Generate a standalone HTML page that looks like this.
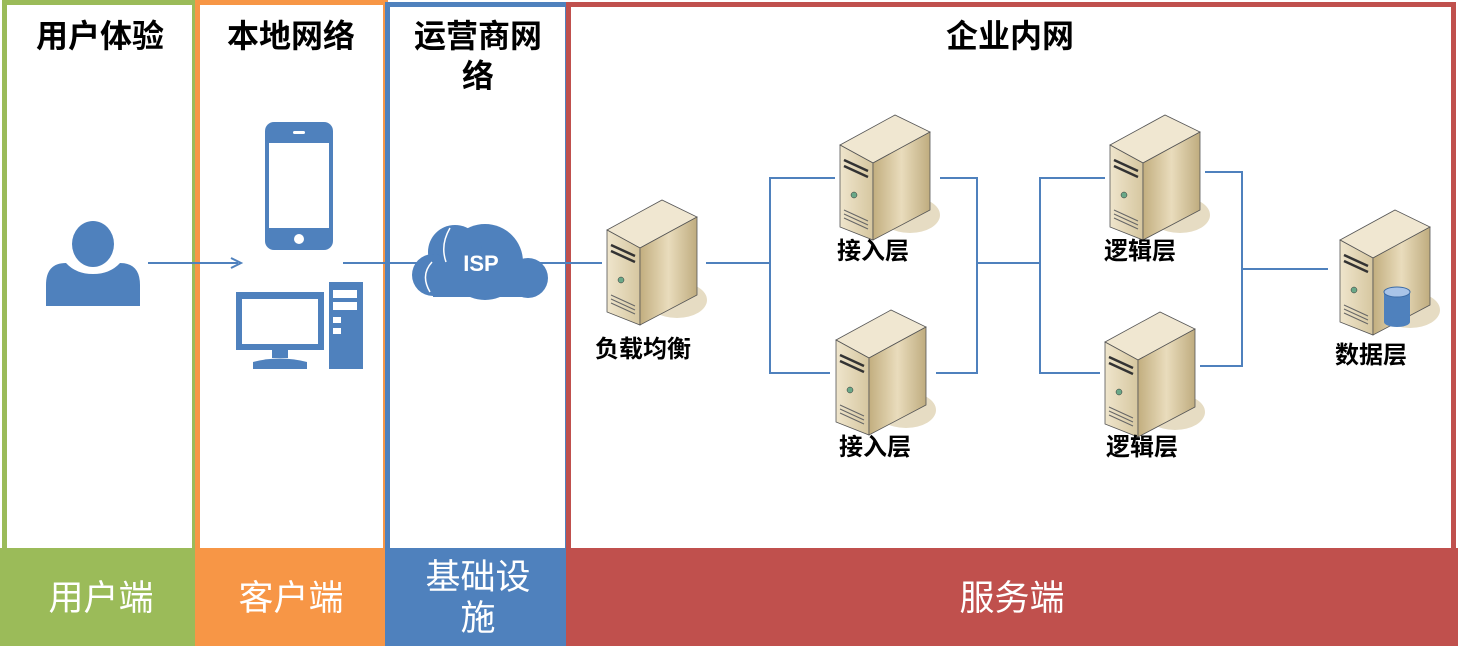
<!DOCTYPE html>
<html><head><meta charset="utf-8"><style>
body{margin:0;background:#fff;}
svg text{font-family:"Liberation Sans","Noto Sans CJK SC",sans-serif;}
</style></head><body>
<svg width="1458" height="646" viewBox="0 0 1458 646" xmlns="http://www.w3.org/2000/svg">
<defs>
<linearGradient id="gs" x1="0" y1="0" x2="1" y2="0"><stop offset="0" stop-color="#c2ae7f"/><stop offset="0.5" stop-color="#e9dcbc"/><stop offset="1" stop-color="#bfac7f"/></linearGradient>
<linearGradient id="gf" x1="0" y1="0" x2="1" y2="0"><stop offset="0" stop-color="#efe5cc"/><stop offset="1" stop-color="#d6c7a0"/></linearGradient>
<g id="srv">
<ellipse cx="72" cy="100" rx="30" ry="18" fill="#e6dcc3"/>
<polygon points="2,30 57,0 92,17 35,48" fill="#f0e7d1" stroke="#555" stroke-width="0.8"/>
<polygon points="2,30 35,48 35,125 2,112" fill="url(#gf)" stroke="#555" stroke-width="0.8"/>
<polygon points="35,48 92,17 92,95 35,125" fill="url(#gs)" stroke="#555" stroke-width="0.8"/>
<path d="M6,45 L30,56 M6,51 L30,62" stroke="#333" stroke-width="2.5"/>
<circle cx="16" cy="80" r="3" fill="#6aa888" stroke="#333" stroke-width="0.5"/>
<path d="M6,95 L30,106 M6,99 L30,110 M6,103 L30,114" stroke="#666" stroke-width="1"/>
</g>
</defs>
<rect x="0" y="548" width="195" height="98" fill="#9bbb59"/>
<rect x="195" y="548" width="190" height="98" fill="#f79646"/>
<rect x="385" y="548" width="181" height="98" fill="#4f81bd"/>
<rect x="566" y="548" width="892" height="98" fill="#c0504d"/>
<rect x="4.5" y="2.5" width="190" height="641" fill="none" stroke="#9bbb59" stroke-width="5"/>
<rect x="197.5" y="2.5" width="188" height="641" fill="none" stroke="#f79646" stroke-width="5"/>
<rect x="387.5" y="4.5" width="180" height="639" fill="none" stroke="#4f81bd" stroke-width="5"/>
<rect x="568.5" y="4.5" width="885" height="639" fill="none" stroke="#c0504d" stroke-width="5"/>
<g font-size="32" font-weight="bold" fill="#000" text-anchor="middle">
<text x="100" y="47">用户体验</text>
<text x="291" y="47">本地网络</text>
<text x="478" y="47">运营商网</text>
<text x="478" y="87">络</text>
<text x="1010" y="47">企业内网</text>
</g>
<g font-size="35" fill="#fff" text-anchor="middle">
<text x="101" y="610">用户端</text>
<text x="291" y="610">客户端</text>
<text x="478" y="589">基础设</text>
<text x="478" y="630">施</text>
<text x="1012" y="610">服务端</text>
</g>
<g fill="#4f81bd">
<ellipse cx="93" cy="244" rx="21" ry="23"/>
<path d="M46,306 L46,285 Q46,263 66,263 Q76,274 93,274 Q110,274 120,263 Q140,263 140,285 L140,306 Z"/>
</g>
<rect x="265" y="122" width="68" height="128" rx="9" fill="#4f81bd"/>
<rect x="269" y="143" width="60" height="85" fill="#fff"/>
<rect x="293" y="131" width="12" height="3" rx="1.5" fill="#fff"/>
<circle cx="299" cy="239" r="5" fill="#fff"/>
<rect x="236" y="292" width="88" height="58" fill="#4f81bd"/>
<rect x="242" y="299" width="76" height="45" fill="#fff"/>
<rect x="272" y="350" width="16" height="8" fill="#4f81bd"/>
<path d="M253,369 L253,362 Q280,355 307,362 L307,369 Z" fill="#4f81bd"/>
<rect x="329" y="282" width="34" height="87" fill="#4f81bd"/>
<rect x="333" y="290" width="24" height="8" fill="#fff"/>
<rect x="333" y="302" width="24" height="8" fill="#fff"/>
<rect x="333" y="317" width="8" height="6" fill="#fff"/>
<rect x="333" y="328" width="8" height="6" fill="#fff"/>
<g fill="#4f81bd">
<circle cx="485" cy="262" r="38"/>
<circle cx="455" cy="252" r="27"/>
<circle cx="433" cy="275" r="21"/>
<circle cx="528" cy="278" r="20"/>
<rect x="433" y="262" width="95" height="35"/>
</g>
<path d="M450,228 Q440,245 446,262 M432,262 Q420,275 430,292" stroke="#fff" stroke-width="1.5" fill="none"/>
<text x="481" y="271" font-size="22" font-weight="bold" fill="#fff" text-anchor="middle">ISP</text>
<g stroke="#4f81bd" stroke-width="2" fill="none">
<line x1="148" y1="263" x2="238" y2="263"/>
<path d="M231,258 L241,263 L231,268"/>
<line x1="343" y1="263" x2="420" y2="263"/>
<line x1="540" y1="263" x2="602" y2="263"/>
<line x1="706" y1="263" x2="770" y2="263"/>
<path d="M835,178 H770 V373 H830"/>
<path d="M940,178 H977 V373 H936"/>
<line x1="977" y1="263" x2="1040" y2="263"/>
<path d="M1105,178 H1040 V373 H1100"/>
<path d="M1205,172 H1242 V366 H1200"/>
<line x1="1242" y1="269" x2="1328" y2="269"/>
</g>
<use href="#srv" x="605" y="200"/>
<use href="#srv" x="838" y="115"/>
<use href="#srv" x="834" y="310"/>
<use href="#srv" x="1108" y="115"/>
<use href="#srv" x="1103" y="312"/>
<use href="#srv" x="1338" y="210"/>
<g>
<rect x="1384" y="292" width="26" height="30" fill="#4f81bd"/>
<ellipse cx="1397" cy="322" rx="13" ry="5" fill="#4f81bd"/>
<ellipse cx="1397" cy="292" rx="13" ry="5" fill="#a9c4e8" stroke="#3a6aa5"/>
</g>
<g font-size="24" font-weight="bold" fill="#000" text-anchor="middle">
<text x="643" y="357">负载均衡</text>
<text x="873" y="259">接入层</text>
<text x="875" y="455">接入层</text>
<text x="1140" y="259">逻辑层</text>
<text x="1142" y="455">逻辑层</text>
<text x="1371" y="363">数据层</text>
</g>
</svg>
</body></html>
